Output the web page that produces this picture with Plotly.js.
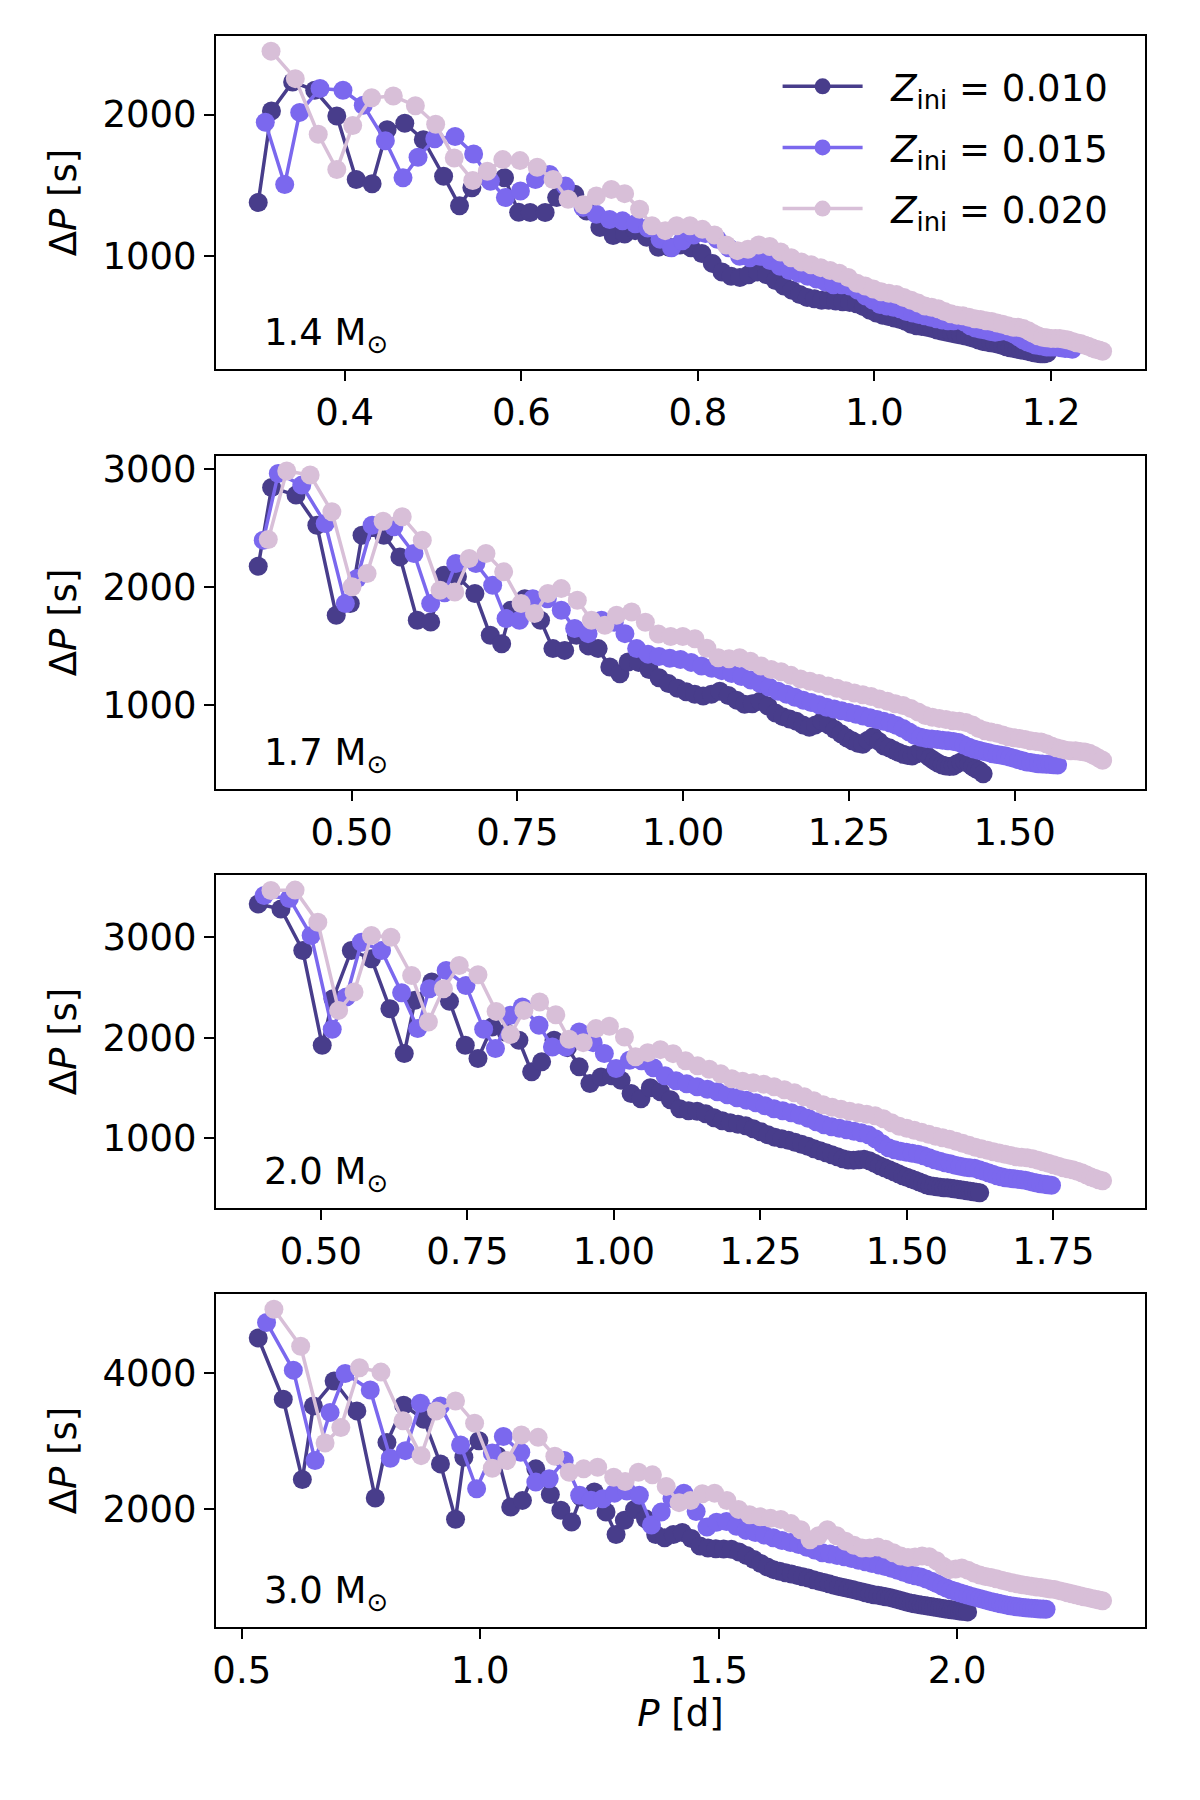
<!DOCTYPE html>
<html>
<head>
<meta charset="utf-8">
<script src="https://cdn.plot.ly/plotly-3.0.1.min.js"></script>
<style>
  body { margin: 0; background: #fff; }
  #chart { width: 1200px; height: 1800px; }
</style>
</head>
<body>
<div id="chart"></div>
<script>
// Period spacing dP (s) of consecutive modes vs period P (d).
// perXX_ZZZ: periods read off the picture where single points are visible,
// dpXX_ZZZ: period spacing of every mode; the dense tail continues from the
// last read period with P[n+1] = P[n] + dP[n].

// --- 1.4 Msun ---
const per14_010 = [0.302, 0.317, 0.341, 0.366, 0.391, 0.413, 0.431, 0.448, 0.468, 0.489, 0.512, 0.530, 0.544, 0.561, 0.581, 0.597, 0.610, 0.627, 0.640, 0.6605, 0.674, 0.689, 0.704, 0.717, 0.729, 0.742];
const dp14_010 = [1379, 2025, 2230, 2171, 1990, 1542, 1512, 1892, 1938, 1822, 1565, 1356, 1484, 1560, 1554, 1310, 1309, 1309, 1414, 1437, 1320, 1204, 1146, 1157, 1181, 1134,
  1064, 1064, 1080, 1060, 1020, 950, 890, 860, 850, 870, 890, 870, 830, 790, 760, 730, 710, 700, 690, 690, 685, 680, 675, 665, 645, 620, 600, 585, 575, 565, 555, 540, 520, 510, 505, 500, 490, 480, 472, 465, 458, 450, 445, 438, 430, 420, 410, 400, 395, 390, 385, 378, 370, 362, 355, 350, 345, 340, 335, 330, 325, 320, 315, 312, 312, 318];
const per14_015 = [0.310, 0.332, 0.349, 0.372, 0.398, 0.421, 0.446, 0.466, 0.483, 0.502, 0.525, 0.546, 0.565, 0.582, 0.599, 0.616, 0.632, 0.650, 0.670, 0.685];
const dp14_015 = [1945, 1507, 2015, 2183, 2171, 2066, 1815, 1554, 1698, 1829, 1845, 1722, 1530, 1414, 1460, 1542, 1577, 1495, 1344, 1297,
  1260, 1250, 1230, 1200, 1120, 1060, 1110, 1150, 1160, 1120, 1060, 1000, 990, 1000, 970, 930, 900, 880, 860, 840, 820, 800, 800, 790, 760, 720, 690, 660, 650, 640, 630, 610, 600, 590, 580, 570, 560, 550, 545, 545, 550, 535, 510, 495, 485, 480, 470, 465, 470, 475, 465, 450, 430, 410, 395, 385, 375, 370, 365, 360, 360, 360, 360, 355, 350, 350, 345];
const per14_020 = [0.3165, 0.344, 0.370, 0.391, 0.409, 0.4305, 0.455, 0.480, 0.503, 0.524, 0.545, 0.5615, 0.579, 0.5985, 0.618, 0.636, 0.653, 0.670, 0.685, 0.702, 0.717, 0.734, 0.748, 0.763, 0.776, 0.791];
const dp14_020 = [2447, 2253, 1861, 1612, 1922, 2118, 2130, 2062, 1931, 1694, 1535, 1600, 1682, 1675, 1628, 1542, 1402, 1363, 1425, 1472, 1442, 1332, 1216, 1181, 1216, 1216,
  1190, 1150, 1080, 1040, 1050, 1080, 1070, 1030, 990, 960, 940, 920, 900, 880, 850, 810, 790, 770, 750, 740, 730, 710, 690, 670, 650, 640, 630, 610, 595, 585, 580, 570, 560, 555, 545, 540, 530, 520, 510, 500, 500, 490, 475, 455, 440, 430, 425, 420, 420, 420, 415, 410, 400, 390, 385, 375, 365, 355, 345, 340, 330];

// --- 1.7 Msun ---
const per17_010 = [0.359, 0.3792, 0.416, 0.4474, 0.4767, 0.4979, 0.5156, 0.5484, 0.5727, 0.5989, 0.6191, 0.6393, 0.6595, 0.6858, 0.709, 0.7262, 0.7403, 0.761, 0.7848, 0.8035, 0.8212, 0.8389, 0.857, 0.8717, 0.8893, 0.9045, 0.917];
const dp17_010 = [2176, 2844, 2779, 2524, 1760, 1859, 2439, 2439, 2255, 1717, 1703, 2100, 2086, 1944, 1590, 1519, 1803, 1900, 1717, 1477, 1462, 1590, 1500, 1477, 1321, 1264, 1363,
  1360, 1300, 1230, 1180, 1140, 1110, 1090, 1075, 1090, 1115, 1080, 1040, 1005, 1010, 1030, 990, 930, 900, 880, 860, 830, 810, 830, 860, 830, 790, 755, 720, 695, 675, 665, 700, 730, 690, 650, 636, 615, 595, 580, 570, 565, 585, 605, 580, 550, 525, 505, 490, 482, 478, 480, 500, 515, 523, 500, 475, 455, 440, 415];
const per17_015 = [0.3666, 0.3893, 0.4247, 0.46, 0.4904, 0.508, 0.5308, 0.5636, 0.5939, 0.6191, 0.640, 0.657, 0.6873, 0.7126, 0.7328, 0.753, 0.7732, 0.795, 0.8161, 0.8363, 0.8565, 0.8767, 0.896, 0.9121, 0.9298];
const dp17_015 = [2397, 2963, 2864, 2539, 1859, 2071, 2524, 2510, 2284, 1859, 1950, 2199, 2199, 2015, 1732, 1717, 1901, 1900, 1802, 1647, 1604, 1717, 1700, 1604, 1477,
  1430, 1410, 1395, 1385, 1360, 1330, 1310, 1290, 1265, 1240, 1210, 1180, 1150, 1115, 1090, 1065, 1040, 1020, 1000, 980, 965, 950, 935, 920, 905, 890, 875, 860, 845, 825, 800, 770, 740, 725, 715, 710, 705, 700, 695, 690, 680, 660, 640, 625, 615, 605, 595, 585, 578, 572, 565, 555, 545, 535, 525, 515, 510, 505, 500, 498, 496, 494, 492, 490];
const per17_020 = [0.3742, 0.402, 0.4373, 0.4701, 0.5005, 0.5232, 0.5474, 0.5762, 0.6065, 0.6333, 0.6555, 0.6772, 0.7025, 0.7292, 0.7555, 0.7757, 0.7959, 0.8161, 0.8403, 0.8616, 0.8818, 0.8995, 0.9222];
const dp17_020 = [2403, 2983, 2949, 2638, 2001, 2114, 2558, 2595, 2397, 1972, 1958, 2241, 2284, 2128, 1859, 1774, 1944, 1986, 1887, 1717, 1675, 1760, 1788,
  1700, 1600, 1580, 1580, 1560, 1480, 1400, 1390, 1400, 1370, 1330, 1300, 1280, 1250, 1220, 1200, 1180, 1160, 1140, 1120, 1100, 1085, 1070, 1050, 1030, 1010, 995, 970, 940, 910, 895, 885, 875, 865, 860, 850, 830, 800, 780, 770, 760, 745, 730, 720, 715, 705, 695, 690, 685, 670, 650, 635, 625, 615, 610, 610, 605, 600, 590, 570, 550, 530];

// --- 2.0 Msun ---
const per20_010 = [0.3931, 0.4319, 0.4691, 0.5023, 0.5206, 0.5520, 0.5863, 0.6178, 0.6423, 0.6606, 0.6892, 0.7195, 0.7464, 0.7681, 0.7921, 0.8165, 0.8379, 0.8596, 0.8767, 0.8979, 0.9207, 0.9408, 0.9591, 0.9780, 0.9966, 1.0123, 1.0294];
const dp20_010 = [3335, 3285, 2870, 1924, 2389, 2870, 2787, 2289, 1841, 2372, 2555, 2362, 1924, 1791, 2106, 2050, 1974, 1658, 1758, 1974, 1900, 1708, 1542, 1608, 1620, 1575, 1442,
  1390, 1500, 1460, 1380, 1290, 1270, 1265, 1240, 1200, 1170, 1150, 1135, 1120, 1090, 1060, 1030, 1005, 990, 975, 955, 935, 915, 890, 870, 850, 830, 810, 790, 778, 775, 780, 785, 770, 745, 720, 700, 680, 660, 640, 620, 605, 590, 575, 560, 545, 530, 520, 515, 510, 505, 500, 500, 495, 490, 485, 480, 475, 470, 465, 460, 455, 450];
const per20_015 = [0.4033, 0.4462, 0.4834, 0.5194, 0.5434, 0.5692, 0.6035, 0.6378, 0.6652, 0.6852, 0.7138, 0.7475, 0.7778, 0.7979, 0.8236, 0.8436, 0.8722, 0.8951, 0.9179, 0.9408, 0.9646, 0.9837, 1.0037, 1.0266];
const dp20_015 = [3420, 3390, 3019, 2083, 2405, 2953, 2870, 2448, 2090, 2488, 2671, 2521, 2083, 1891, 2223, 2306, 2123, 1907, 1907, 2057, 1950, 1841, 1691, 1774,
  1770, 1700, 1620, 1570, 1540, 1510, 1485, 1460, 1430, 1400, 1375, 1350, 1320, 1290, 1270, 1250, 1225, 1195, 1160, 1130, 1110, 1095, 1080, 1065, 1050, 1030, 990, 940, 900, 880, 865, 855, 845, 835, 820, 800, 780, 765, 750, 740, 725, 715, 705, 700, 695, 680, 665, 650, 635, 620, 610, 600, 595, 590, 585, 580, 575, 565, 555, 548, 540, 535, 530, 525];
const per20_020 = [0.4148, 0.4560, 0.4948, 0.5303, 0.5566, 0.5863, 0.6195, 0.6549, 0.6835, 0.7092, 0.7361, 0.7681, 0.7990, 0.8236, 0.8465, 0.8733, 0.9008, 0.9236, 0.9477, 0.9694, 0.9923, 1.0180, 1.0369];
const dp20_020 = [3470, 3473, 3152, 2272, 2455, 3019, 3003, 2621, 2156, 2488, 2721, 2628, 2262, 2030, 2272, 2355, 2229, 1984, 1950, 2090, 2113, 2007, 1808,
  1850, 1880, 1840, 1770, 1720, 1685, 1640, 1590, 1565, 1550, 1535, 1510, 1480, 1450, 1410, 1370, 1330, 1305, 1285, 1265, 1250, 1235, 1220, 1190, 1150, 1115, 1095, 1075, 1055, 1035, 1015, 1000, 985, 965, 945, 925, 905, 890, 875, 860, 848, 835, 822, 810, 805, 800, 790, 775, 760, 745, 730, 715, 700, 690, 680, 665, 650, 630, 610, 595, 580, 570];

// --- 3.0 Msun ---
const per30_010 = [0.5345, 0.5870, 0.6270, 0.6502, 0.6936, 0.7413, 0.7799, 0.8044, 0.8395, 0.8816, 0.9166, 0.9482, 0.9657, 0.9973, 1.0359, 1.0639, 1.0885, 1.1165, 1.1470, 1.1691, 1.1915, 1.2112, 1.2392, 1.2637, 1.2848, 1.3023];
const dp30_010 = [4522, 3617, 2432, 3519, 3886, 3445, 2158, 2980, 3528, 3323, 2662, 1844, 2760, 3005, 2784, 2026, 2123, 2589, 2210, 1977, 1805, 2172, 2246, 1952, 1619, 1830,
  1990, 1850, 1620, 1570, 1620, 1650, 1560, 1450, 1420, 1410, 1405, 1400, 1360, 1310, 1250, 1190, 1140, 1100, 1075, 1055, 1035, 1015, 995, 975, 950, 930, 910, 890, 870, 850, 835, 820, 805, 790, 775, 760, 745, 730, 720, 710, 700, 690, 675, 660, 645, 630, 615, 605, 595, 585, 578, 570, 562, 555, 548, 540, 533, 526, 520, 514, 508, 502, 496, 490, 485, 480, 476];
const per30_015 = [0.5520, 0.6081, 0.6537, 0.6852, 0.7168, 0.7694, 0.8115, 0.8430, 0.8746, 0.9166, 0.9587, 0.9924, 1.0253, 1.0485, 1.0850, 1.1165, 1.1446, 1.1761, 1.2085, 1.2322, 1.2568];
const dp30_015 = [4752, 4047, 2711, 3421, 3998, 3754, 2745, 2858, 3558, 3519, 2941, 2295, 2823, 3068, 2833, 2393, 2442, 2711, 2200, 2124, 2148,
  2230, 2260, 2200, 1760, 1950, 2150, 2230, 1960, 1730, 1800, 1810, 1740, 1680, 1650, 1610, 1570, 1530, 1500, 1470, 1430, 1390, 1350, 1330, 1310, 1290, 1265, 1240, 1215, 1190, 1170, 1145, 1120, 1090, 1060, 1030, 1010, 990, 960, 930, 895, 860, 830, 800, 780, 760, 740, 720, 705, 690, 675, 660, 645, 630, 618, 606, 595, 585, 575, 568, 560, 553, 547, 541, 536, 532, 528, 525, 522, 520, 518, 515];
const per30_020 = [0.5674, 0.6235, 0.6747, 0.7077, 0.7469, 0.7918, 0.8381, 0.8760, 0.9082, 0.9482, 0.9882, 1.0253, 1.0555, 1.0864, 1.1214, 1.1565, 1.1866, 1.2168, 1.2462, 1.2799, 1.3038];
const dp30_020 = [4948, 4400, 2970, 3200, 4082, 4018, 3298, 2784, 3445, 3592, 3264, 2598, 2711, 3088, 3054, 2774, 2540, 2589, 2613, 2466, 2403,
  2540, 2500, 2330, 2090, 2120, 2220, 2230, 2120, 1990, 1910, 1880, 1860, 1840, 1780, 1690, 1540, 1600, 1690, 1600, 1520, 1460, 1420, 1420, 1435, 1400, 1350, 1300, 1280, 1285, 1300, 1290, 1230, 1150, 1100, 1110, 1125, 1090, 1050, 1020, 1000, 985, 965, 945, 925, 905, 890, 875, 865, 855, 845, 835, 825, 815, 805, 790, 775, 760, 745, 730, 715, 700, 688, 675, 662, 650, 640];

const masses = ["1.4", "1.7", "2.0", "3.0"];
const zLabels = ["0.010", "0.015", "0.020"];
const colors = ["#483D8B", "#7B68EE", "#D8BFD8"];

const series = [
  [[per14_010, dp14_010], [per14_015, dp14_015], [per14_020, dp14_020]],
  [[per17_010, dp17_010], [per17_015, dp17_015], [per17_020, dp17_020]],
  [[per20_010, dp20_010], [per20_015, dp20_015], [per20_020, dp20_020]],
  [[per30_010, dp30_010], [per30_015, dp30_015], [per30_020, dp30_020]]
];

// complete the period list from the spacings
function periods(known, dp) {
  const p = known.slice();
  for (let i = p.length; i < dp.length; i++) p.push(p[i - 1] + dp[i - 1] / 86400);
  return p;
}

// matplotlib-like 5% autoscale margins
function padded(vals) {
  const lo = Math.min(...vals), hi = Math.max(...vals), s = hi - lo;
  return [lo - 0.05 * s, hi + 0.05 * s];
}

const yDomains = [[0.795, 0.98], [0.5617, 0.7467], [0.3289, 0.5139], [0.0961, 0.2811]];
const xTick = [{d: 0.2, f: ".1f"}, {d: 0.25, f: ".2f"}, {d: 0.25, f: ".2f"}, {d: 0.5, f: ".1f"}];
const yTick = [1000, 1000, 1000, 2000];

const FONT = "DejaVu Sans, Liberation Sans, sans-serif";
const traces = [];
const layout = {
  width: 1200, height: 1800,
  margin: {l: 0, r: 0, t: 0, b: 0},
  paper_bgcolor: "#ffffff", plot_bgcolor: "#ffffff",
  font: {family: FONT, size: 37, color: "#000000"},
  showlegend: true,
  legend: {
    x: 0.928, xanchor: "right", y: 0.969, yanchor: "top",
    bgcolor: "rgba(0,0,0,0)", borderwidth: 0,
    font: {family: FONT, size: 37, color: "#000000"},
    itemwidth: 80, tracegroupgap: 10
  },
  annotations: [],
  hovermode: false
};

series.forEach(function(panel, k) {
  const sx = k === 0 ? "" : String(k + 1);
  const allP = [], allD = [];
  panel.forEach(function(pair, j) {
    const P = periods(pair[0], pair[1]);
    allP.push(...P); allD.push(...pair[1]);
    traces.push({
      x: P, y: pair[1], type: "scatter", mode: "lines+markers",
      xaxis: "x" + sx, yaxis: "y" + sx,
      name: "\u00a0\u00a0<i>Z</i><sub>ini</sub> = " + zLabels[j],
      legendgroup: "z" + j, showlegend: k === 0,
      line: {color: colors[j], width: 3.5},
      marker: {color: colors[j], size: 19}
    });
  });

  const common = {
    showline: true, linecolor: "#000000", linewidth: 2, mirror: true,
    ticks: "outside", ticklen: 10, tickwidth: 2, tickcolor: "#000000",
    showgrid: false, zeroline: false,
    tickfont: {family: FONT, size: 37, color: "#000000"}
  };
  layout["xaxis" + sx] = Object.assign({}, common, {
    domain: [0.18, 0.954], anchor: "y" + sx,
    range: padded(allP), tick0: 0, dtick: xTick[k].d, tickformat: xTick[k].f
  });
  layout["yaxis" + sx] = Object.assign({}, common, {
    domain: yDomains[k], anchor: "x" + sx,
    range: padded(allD), tick0: 0, dtick: yTick[k], tickformat: "d",
    title: {text: "Δ<i>P</i> [s]", font: {family: FONT, size: 37, color: "#000000"}, standoff: 14}
  });
  layout.annotations.push({
    xref: "x" + sx + " domain", yref: "y" + sx + " domain",
    x: 0.05, y: 0.025, xanchor: "left", yanchor: "bottom", showarrow: false,
    text: masses[k] + " M<sub>⊙</sub>",
    font: {family: FONT, size: 37, color: "#000000"}
  });
});

layout.xaxis4.title = {text: "<i>P</i> [d]", font: {family: FONT, size: 37, color: "#000000"}, standoff: 6};

Plotly.newPlot("chart", traces, layout, {displayModeBar: false, staticPlot: true});
</script>
</body>
</html>
